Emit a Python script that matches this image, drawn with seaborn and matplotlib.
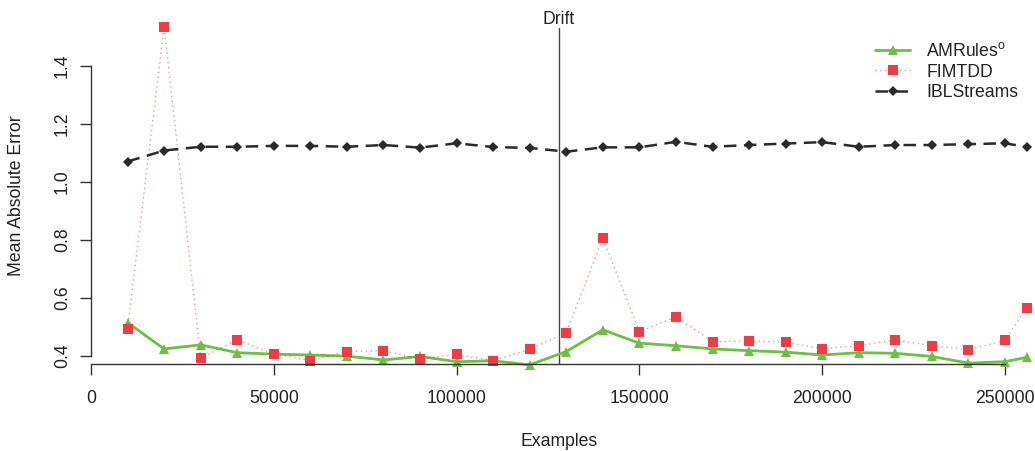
import matplotlib
matplotlib.use("Agg")
import matplotlib.pyplot as plt
from matplotlib.colors import to_rgba
import seaborn as sns
import numpy as np
import pandas as pd

# ---------------- data ----------------
examples = [10000, 20000, 30000, 40000, 50000, 60000, 70000, 80000, 90000, 100000,
            110000, 120000, 130000, 140000, 150000, 160000, 170000, 180000, 190000,
            200000, 210000, 220000, 230000, 240000, 250000, 256000]

amrules = [0.515, 0.424, 0.438, 0.411, 0.406, 0.403, 0.399, 0.386, 0.398, 0.380,
           0.383, 0.369, 0.415, 0.490, 0.444, 0.435, 0.424, 0.418, 0.413, 0.403,
           0.411, 0.409, 0.398, 0.375, 0.380, 0.395]

fimtdd = [0.493, 1.537, 0.392, 0.455, 0.407, 0.384, 0.415, 0.418, 0.390, 0.405,
          0.383, 0.423, 0.480, 0.807, 0.483, 0.535, 0.449, 0.451, 0.447, 0.425,
          0.435, 0.455, 0.435, 0.421, 0.454, 0.567]

iblstreams = [1.071, 1.109, 1.122, 1.122, 1.125, 1.125, 1.122, 1.128, 1.119, 1.134,
              1.121, 1.118, 1.105, 1.120, 1.120, 1.139, 1.122, 1.128, 1.133, 1.138,
              1.122, 1.128, 1.128, 1.131, 1.134, 1.121]

series_names = ["AMRules$^\\mathregular{o}$", "FIMTDD", "IBLStreams"]
drift_at = 128000
x_ticks = [0, 50000, 100000, 150000, 200000, 250000]
y_ticks = [0.4, 0.6, 0.8, 1.0, 1.2, 1.4]

# ---------------- style ----------------
sns.set_theme(style="white")
plt.rcParams["font.family"] = ["Liberation Sans", "DejaVu Sans"]
FS = 12.7
axis_col = "#333333"

W, H = 1035, 451
fig = plt.figure(figsize=(W / 100, H / 100), dpi=100)
ax = fig.add_axes([91 / W, (H - 364) / H, (W - 91) / W, 336 / H])

red = "#ee3b44"
styles = [
    dict(color="#6dbf45", linestyle="-", linewidth=2.0, marker="^", markersize=7.8,
         markeredgewidth=0),
    dict(color=to_rgba(red, 0.55), linestyle=(0, (1, 2.5)), linewidth=1.0, marker="s",
         markersize=6.8, markeredgewidth=0, markerfacecolor=red),
    dict(color="#2a2a2a", linestyle=(0, (5, 3)), linewidth=1.8, marker="D", markersize=5,
         markeredgewidth=0),
]
data = [amrules, fimtdd, iblstreams]

for name, vals, st in zip(series_names, data, styles):
    df = pd.DataFrame({"Examples": examples, "MAE": vals})
    sns.lineplot(data=df, x="Examples", y="MAE", ax=ax, label=name,
                 clip_on=False, **st)

ax.axvline(drift_at, color="#444444", linewidth=1.0, zorder=0)
ax.text(drift_at, 1.0, "Drift", transform=ax.get_xaxis_transform(),
        ha="center", va="bottom", fontsize=FS, color="#222222")

ax.set_xlim(0, (W - 91) / 0.003656)
ax.set_ylim(0.372, 1.532)

ax.set_xticks(x_ticks)
ax.set_xticklabels([str(t) for t in x_ticks])
ax.set_yticks(y_ticks)
ax.set_yticklabels([f"{t:.1f}" for t in y_ticks])

for s in ["top", "right"]:
    ax.spines[s].set_visible(False)
for s in ["left", "bottom"]:
    ax.spines[s].set_color(axis_col)
    ax.spines[s].set_linewidth(1.0)
ax.spines["left"].set_bounds(0.4, 1.4)
ax.spines["bottom"].set_bounds(0, 250000)

ax.tick_params(axis="both", direction="out", length=8, width=1.0, color=axis_col,
               labelsize=FS, labelcolor="#222222", left=True, bottom=True)
ax.tick_params(axis="x", pad=11)
ax.tick_params(axis="y", pad=6.5)
plt.setp(ax.get_yticklabels(), rotation=90, va="center")

ax.set_xlabel("Examples", fontsize=FS, color="#222222")
ax.set_ylabel("Mean Absolute Error", fontsize=FS, color="#222222")
ax.xaxis.set_label_coords((559 - 91) / (W - 91), -(442 - 364) / 336)
ax.yaxis.set_label_coords(-(91 - 17) / (W - 91), 0.5)
ax.xaxis.label.set_va("center")
ax.yaxis.label.set_va("center")

leg = ax.legend(loc="upper left", bbox_to_anchor=((875 - 91) / (W - 91), 1 - (42 - 28) / 336),
                frameon=False, fontsize=FS, handlelength=2.0, handletextpad=0.9,
                labelspacing=0.2, borderpad=0, borderaxespad=0)
for t in leg.get_texts():
    t.set_color("#222222")

ax.grid(False)
fig.savefig("out.png", dpi=100)
